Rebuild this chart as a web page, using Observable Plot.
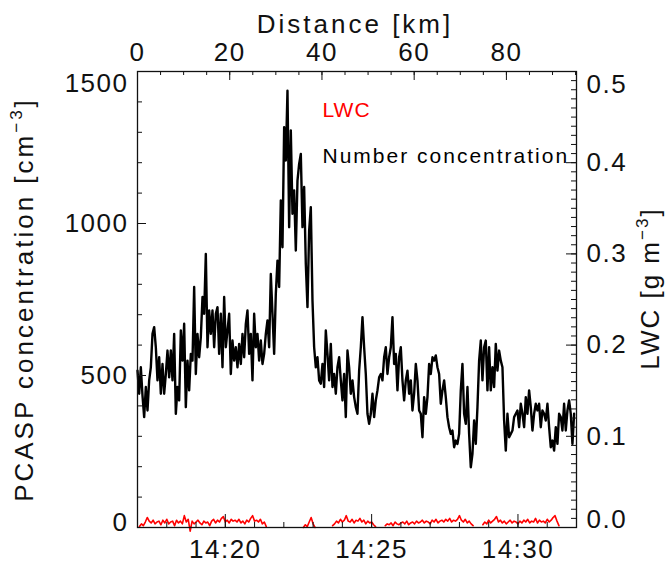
<!DOCTYPE html>
<html><head><meta charset="utf-8">
<script src="https://cdn.jsdelivr.net/npm/d3@7"></script>
<script src="https://cdn.jsdelivr.net/npm/@observablehq/plot@0.6"></script>
<style>
body{margin:0;background:#fff;}
#chart text{letter-spacing:1.5px;}
</style></head><body><div id="chart"></div>
<script>
// ---- data ----
const startTime = "2000-01-01T14:17:00Z";
const endTime = "2000-01-01T14:32:00Z";
const pcaspStepSec = 3.4164;  // PCASP sampling interval (s)
const pcasp = [
516,440,527,434,363,462,385,484,527,637,
659,593,484,560,440,538,440,505,582,494,
582,484,637,374,462,418,648,549,670,396,
549,451,571,549,791,505,637,560,626,758,
703,900,593,714,637,714,593,703,725,571,
703,527,758,593,648,703,505,615,549,593,
527,604,538,637,560,670,714,571,637,484,
703,593,637,549,615,538,571,637,681,593,
834,703,571,769,878,791,1076,922,1317,1207,
1437,988,1306,1032,1109,911,1141,1196,1229,988,
1120,867,725,977,1054,747,593,527,560,484,
473,538,462,648,571,484,604,462,505,440,
527,560,484,418,505,363,582,527,440,484,
429,396,
374,516,593,692,593,505,374,341,374,440,
363,418,451,494,505,484,560,593,505,560,
593,692,538,571,451,560,593,484,418,484,
516,440,484,385,440,538,484,385,374,297,
429,374,429,538,505,560,549,566,527,505,
407,451,484,429,363,330,308,319,264,286,
275,308,451,538,374,341,462,308,198,242,
352,275,396,549,615,484,593,615,451,593,
451,527,462,604,516,582,549,527,352,253,
374,297,308,319,363,374,385,330,407,374,
330,429,374,451,396,319,374,407,385,407,
330,385,374,352,407,330,264,286,253,330,
275,374,363,319,407,319,385,418,374,275,
374];
const lwcStepSec = 4; // LWC sampling interval (s); null = no data
const lwc = [null,
.001,.004,.002,.006,.011,.007,.005,.008,.004,.006,
.007,.003,.008,.005,.009,.004,.006,.007,.002,.008,
.005,.007,.004,.013,.006,.009,-.004,.007,.004,.006,
.008,.005,.003,.007,.005,.006,.002,.007,.009,.005,
.008,.006,.010,.012,.006,.008,.005,.009,.007,.008,
.006,.009,.005,.007,.004,.008,.006,.010,.013,.007,
.008,.006,.009,.004,.006,.001,
null,null,null,null,null,null,null,null,null,null,null,null,null,null,null,null,null,null,
0,.003,.001,.006,.011,.004,0,
null,null,null,null,null,null,null,null,
.002,.004,.007,.005,.009,.006,.008,.013,.007,.006,.009,.005,.008,.007,.010,.006,.008,.004,.007,.005,.006,.003,.001,
null,null,null,null,
.002,.004,.003,.005,.002,.006,.004,.003,.005,.006,
.004,.007,.003,.005,.006,.004,.007,.005,.006,.008,
.005,.007,.006,.004,.008,.006,.009,.005,.007,.008,
.006,.009,.007,.010,.006,.008,.007,.009,.013,.008,
.006,.009,.005,.007,.004,.002,
null,null,null,null,
.003,.006,.004,.008,.005,.007,.009,.012,.006,.008,
.005,.007,.004,.006,.008,.005,.007,.006,.004,.007,
.005,.008,.006,.009,.005,.007,.006,.010,.005,.008,
.006,.007,.005,.009,.006,.008,.011,.013,.007,.002,
null,null,null,null,null,null,null,null];
const pcaspTicks = [0, 500, 1000, 1500];
const lwcTicks = [0.0, 0.1, 0.2, 0.3, 0.4, 0.5];
const timeTicks = ["14:20", "14:25", "14:30"];
const distanceTicks = [0, 20, 40, 60, 80];
const trackLengthKm = 95.2;
const legendLabels = ["LWC", "Number concentration"];
const legendColors = ["#ff0000", "#000000"];
const titles = {top: "Distance [km]", left: "PCASP concentration [cm^{−3}]", right: "LWC [g m^{−3}]"};

// ---- derived ----
const t0 = new Date(startTime), t1 = new Date(endTime);
const lwcMax = 0.5, pcaspMax = 1500, lwcFactor = pcaspMax / lwcMax;
const pcaspData = pcasp.map((v, i) => ({t: new Date(+t0 + i * pcaspStepSec * 1000), v}));
const lwcData = lwc.map((v, i) => ({t: new Date(+t0 + i * lwcStepSec * 1000), v: v == null ? null : v * lwcFactor}));
const hm = s => new Date(`2000-01-01T${s}:00Z`);
const timeTickDates = timeTicks.map(hm);
const minuteTicks = d3.utcMinute.range(t0, new Date(+t1 + 1));
const kmToTime = d => new Date(+t0 + d / trackLengthKm * (t1 - t0));
const km5 = d3.range(0, trackLengthKm, 5);

const W = 666, H = 563, mL = 137, mR = 90, mT = 71, mB = 36;
const pH = H - mT - mB, pW = W - mL - mR;
const ink = "#111";
const fmtLwc = d => (d / lwcFactor).toFixed(1);
const axOpts = {tickSize: 0, label: null, fill: ink};

const chart = Plot.plot({
  width: W, height: H,
  marginLeft: mL, marginRight: mR, marginTop: mT, marginBottom: mB,
  x: {type: "utc", domain: [t0, t1], axis: null},
  y: {domain: [0, pcaspMax], axis: null},
  style: {fontFamily: "'Liberation Sans', sans-serif", fontSize: "26px", color: ink, background: "white"},
  marks: [
    // data
    Plot.line(lwcData, {x: "t", y: "v", stroke: legendColors[0], strokeWidth: 1.6}),
    Plot.line(pcaspData, {x: "t", y: "v", stroke: legendColors[1], strokeWidth: 2.4}),
    // frame
    Plot.frame({stroke: ink, strokeWidth: 1.3}),
    // bottom ticks (time)
    Plot.tickX(minuteTicks, {x: d => d, insetTop: pH - 5, stroke: ink}),
    Plot.tickX(timeTickDates, {x: d => d, insetTop: pH - 13, stroke: ink}),
    // top ticks (distance)
    Plot.tickX(km5, {x: kmToTime, insetBottom: pH - 4, stroke: ink}),
    Plot.tickX(distanceTicks, {x: kmToTime, insetBottom: pH - 9, stroke: ink}),
    // left ticks
    Plot.tickY(d3.range(0, pcaspMax + 1, 100), {y: d => d, insetRight: pW - 5, stroke: ink}),
    Plot.tickY(pcaspTicks, {y: d => d, insetRight: pW - 9, stroke: ink}),
    // right ticks
    Plot.tickY(d3.range(0, 51).map(i => i / 100), {y: d => d * lwcFactor, insetLeft: pW - 5, stroke: ink}),
    Plot.tickY(lwcTicks, {y: d => d * lwcFactor, insetLeft: pW - 10, stroke: ink}),
    // tick labels
    Plot.axisX(timeTickDates, {...axOpts, anchor: "bottom", tickPadding: 12, tickFormat: d3.utcFormat("%H:%M")}),
    Plot.axisX(distanceTicks.map(kmToTime), {...axOpts, anchor: "top", tickPadding: 11, tickFormat: d => String(Math.round((d - t0) / (t1 - t0) * trackLengthKm))}),
    Plot.axisY(pcaspTicks.slice(1, 3), {...axOpts, anchor: "left", tickPadding: 9, tickFormat: d3.format("d")}),
    Plot.axisY([pcaspTicks[3]], {...axOpts, anchor: "left", tickPadding: 9, tickFormat: d3.format("d"), dy: 12}),
    Plot.axisY([pcaspTicks[0]], {...axOpts, anchor: "left", tickPadding: 9, tickFormat: d3.format("d"), dy: -5}),
    Plot.axisY(lwcTicks.slice(1, 5).map(d => d * lwcFactor), {...axOpts, anchor: "right", tickPadding: 10, tickFormat: fmtLwc}),
    Plot.axisY([lwcTicks[5] * lwcFactor], {...axOpts, anchor: "right", tickPadding: 10, tickFormat: fmtLwc, dy: 13}),
    Plot.axisY([lwcTicks[0] * lwcFactor], {...axOpts, anchor: "right", tickPadding: 10, tickFormat: fmtLwc, dy: -8}),
    // axis titles
    Plot.text([titles.top], {frameAnchor: "top", textAnchor: "middle", dx: -2, dy: -39, lineAnchor: "bottom", fontSize: 26, fill: ink}),
    Plot.text([titles.left], {frameAnchor: "left", textAnchor: "middle", dx: -113, dy: 0, rotate: -90, fontSize: 26, fill: ink}),
    Plot.text([titles.right], {frameAnchor: "right", textAnchor: "middle", dx: 74, dy: -11, rotate: -90, fontSize: 26, fill: ink}),
    // legend
    Plot.text([legendLabels[0]], {frameAnchor: "top-left", textAnchor: "start", dx: 185, dy: 31, fontSize: 21, fill: legendColors[0]}),
    Plot.text([legendLabels[1]], {frameAnchor: "top-left", textAnchor: "start", dx: 185, dy: 77, fontSize: 21, fill: legendColors[1]})
  ]
});

// per-text letter spacing (the reference font is widely spaced)
const spacing = {[titles.top]: "3px", [titles.left]: "3px", [titles.right]: "2px", [legendLabels[0]]: "1px", [legendLabels[1]]: "2px"};
d3.select(chart).selectAll("text").each(function () {
  const s = this.textContent;
  if (spacing[s]) this.style.letterSpacing = spacing[s];
});

// render "^{...}" as a raised superscript
d3.select(chart).selectAll("text").each(function () {
  const s = this.textContent;
  const m = s.match(/^(.*)\^\{(.*)\}(.*)$/);
  if (!m) return;
  const el = d3.select(this);
  el.text(null);
  el.append("tspan").text(m[1]);
  el.append("tspan").attr("dy", -11).attr("font-size", "17px").text(m[2]);
  el.append("tspan").attr("dy", 11).text(m[3]);
});

document.getElementById("chart").appendChild(chart);
</script></body></html>
